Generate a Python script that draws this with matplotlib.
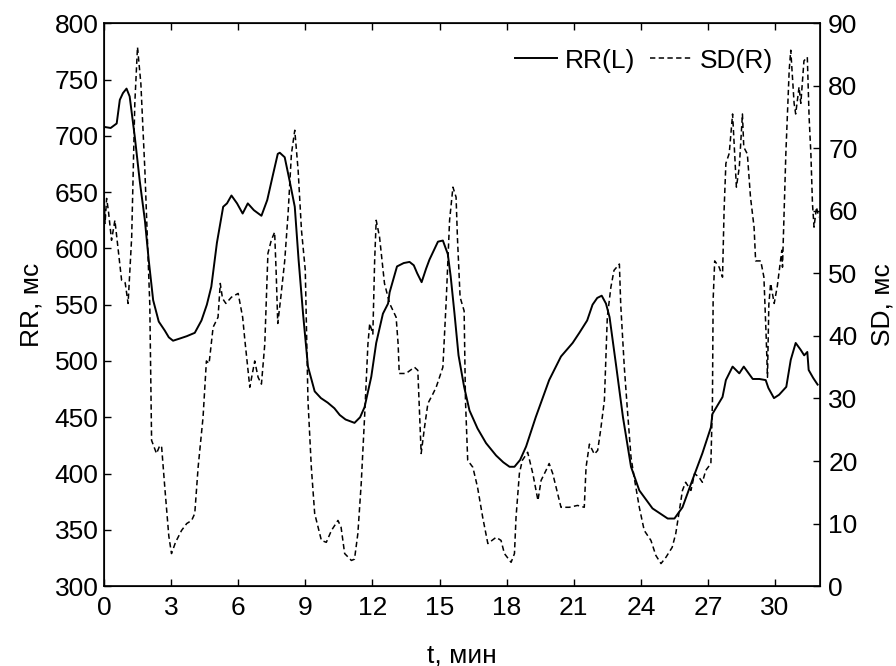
import numpy as np
import matplotlib
matplotlib.use('Agg')
import matplotlib.pyplot as plt

plt.rcParams['font.family'] = ['Liberation Sans', 'DejaVu Sans']
plt.rcParams['font.size'] = 19

# RR (левая ось), мс
rr_t = [0.0, 0.3, 0.57, 0.71, 0.85, 1.01, 1.15, 1.38, 1.6, 1.83, 2.0, 2.2, 2.45, 2.72,
        2.9, 3.09, 3.4, 3.7, 4.06, 4.36, 4.6, 4.8, 5.05, 5.33, 5.5, 5.7, 5.95, 6.2,
        6.43, 6.7, 7.04, 7.3, 7.55, 7.77, 7.86, 8.08, 8.3, 8.53, 8.7, 8.9, 9.12, 9.42,
        9.7, 10.0, 10.3, 10.54, 10.8, 11.2, 11.45, 11.65, 11.95, 12.17, 12.47, 12.7,
        12.77, 13.1, 13.4, 13.66, 13.85, 14.0, 14.2, 14.4, 14.55, 14.93, 15.15, 15.37,
        15.5, 15.67, 15.85, 16.1, 16.34, 16.7, 17.08, 17.53, 17.85, 18.13, 18.35, 18.6,
        18.87, 19.3, 19.9, 20.43, 20.95, 21.25, 21.6, 21.84, 22.05, 22.25, 22.44, 22.6,
        22.9, 23.2, 23.56, 23.93, 24.52, 25.2, 25.5, 25.86, 26.3, 26.75, 27.13, 27.2,
        27.65, 27.8, 28.1, 28.4, 28.6, 29.0, 29.3, 29.58, 29.7, 29.95, 30.18, 30.5,
        30.7, 30.92, 31.14, 31.3, 31.44, 31.5, 31.7, 31.9]
rr = [708, 707, 711, 732, 738, 742, 735, 699, 660, 625, 590, 554, 535, 527,
      521, 518, 520, 522, 525, 536, 550, 566, 605, 637, 640, 647, 640, 631,
      640, 634, 629, 643, 665, 684, 685, 681, 660, 637, 590, 542, 495, 473,
      467, 463, 458, 452, 448, 445, 450, 459, 486, 516, 542, 551,
      561, 584, 587, 588, 585, 578, 570, 582, 590, 606, 607, 595,
      575, 542, 505, 477, 456, 440, 427, 416, 410, 406, 406, 412,
      424, 450, 483, 504, 516, 525, 536, 550, 556, 558, 551, 539,
      495, 450, 406, 385, 369, 360, 360, 370, 394, 418, 441, 453,
      468, 483, 495, 489, 495, 484, 484, 483, 476, 467, 470, 477,
      501, 516, 510, 505, 508, 492, 485, 479]

# SD (правая ось), мс
sd_t = [0.0, 0.05, 0.12, 0.2, 0.34, 0.49, 0.64, 0.79, 0.95, 1.08, 1.24, 1.38, 1.5, 1.65,
        1.83, 1.98, 2.05, 2.13, 2.35, 2.5, 2.58, 2.72, 2.9, 3.02, 3.2, 3.47, 3.7, 3.92,
        4.06, 4.21, 4.43, 4.58, 4.7, 4.88, 5.1, 5.2, 5.3, 5.45, 5.7, 6.0, 6.2, 6.3,
        6.52, 6.74, 6.89, 7.04, 7.19, 7.33, 7.48, 7.63, 7.7, 7.77, 7.9, 8.08, 8.23,
        8.38, 8.53, 8.68, 8.83, 9.0, 9.12, 9.27, 9.42, 9.72, 9.94, 10.17, 10.46, 10.6,
        10.76, 11.06, 11.2, 11.35, 11.5, 11.65, 11.8, 11.88, 12.02, 12.1, 12.17, 12.32,
        12.54, 12.77, 13.06, 13.15, 13.2, 13.5, 13.88, 14.03, 14.18, 14.33, 14.48, 14.7,
        14.85, 15.0, 15.15, 15.3, 15.45, 15.6, 15.74, 15.8, 15.92, 16.1, 16.16, 16.26,
        16.49, 16.7, 16.93, 17.16, 17.53, 17.75, 17.9, 18.2, 18.35, 18.42, 18.57, 18.7,
        18.94, 19.17, 19.4, 19.54, 19.76, 19.9, 20.06, 20.28, 20.43, 20.8, 21.17, 21.47,
        21.55, 21.7, 21.92, 22.07, 22.2, 22.37, 22.5, 22.66, 22.8, 23.04, 23.1, 23.26,
        23.4, 23.56, 23.7, 23.93, 24.15, 24.45, 24.67, 24.9, 25.12, 25.4, 25.56, 25.7,
        25.86, 26.0, 26.24, 26.4, 26.6, 26.75, 26.9, 27.13, 27.2, 27.23, 27.3, 27.5,
        27.65, 27.72, 27.8, 27.95, 28.1, 28.17, 28.27, 28.4, 28.54, 28.6, 28.76, 28.9,
        29.06, 29.13, 29.36, 29.5, 29.6, 29.66, 29.72, 29.8, 29.96, 30.1, 30.3, 30.33,
        30.48, 30.63, 30.7, 30.85, 30.92, 31.07, 31.15, 31.29, 31.44, 31.52, 31.6, 31.67,
        31.74, 31.85, 31.95]
sd = [63, 58, 62, 60, 55.3, 58.5, 53.7, 48.9, 48.5, 45.2, 55.8, 77.2, 86.2, 80.4,
      66.5, 52, 45, 23.3, 21.2, 22.5, 22.2, 15.8, 8, 5.2, 7, 8.9, 10, 10.5,
      11.6, 19, 27, 36, 35.6, 41.4, 43, 48.4, 46, 45.2, 46.2, 46.8, 43, 39.3,
      31.8, 36, 33.4, 32.3, 38.7, 53.2, 55.3, 56.6, 50, 42, 46, 52, 59.5,
      69.1, 72.9, 66.5, 56.9, 50.5, 29.7, 19, 11.6, 7.3, 7.0, 8.9, 10.5, 9.4,
      5.2, 4.1, 4.3, 8.4, 16.4, 27, 38.7, 42, 40.3, 52, 58.5, 55.8,
      48.4, 45.2, 43, 38.7, 34, 34, 35, 34.5, 21.2, 25.4, 29.2, 30.7,
      31.8, 33.4, 35, 45.7, 58.5, 63.8, 62.2, 55.8, 46.2, 44, 29.7, 20.1,
      19, 15.8, 11, 6.8, 7.8, 7.3, 5.2, 3.8, 5.2, 11, 18, 20.1,
      21.4, 18, 13.7, 16.9, 18.5, 19.6, 18, 14.8, 12.6, 12.6, 12.9, 12.6,
      19, 22.7, 21.1, 21.7, 24.9, 29.7, 43, 47.8, 50.5, 51.5, 45, 35,
      28.1, 20.6, 17.4, 12.6, 8.9, 7.3, 4.9, 3.6, 4.6, 6.2, 8.4, 11.6,
      15.3, 16.6, 15.3, 18, 17.4, 16.6, 18.5, 19.6, 29.7, 45.7, 52, 51,
      49.4, 60.1, 67.6, 69.2, 75.5, 70.7, 63.8, 67, 75.5, 70.2, 69.1, 62.2,
      57.4, 52, 52, 49.4, 40, 33.4, 45, 48.4, 45.2, 48, 53.7, 51,
      69.1, 82.5, 85.7, 77.2, 75.5, 79.8, 77.2, 84, 84.6, 75, 69.1, 61.2,
      57.4, 60.6, 59]

fig = plt.figure(figsize=(8.96, 6.66), dpi=100)
ax = fig.add_axes([0.116, 0.12, 0.799, 0.845])
ax2 = ax.twinx()

l1, = ax.plot(rr_t, rr, color='black', lw=1.4, label='RR(L)')
l2, = ax2.plot(sd_t, sd, color='black', lw=1.1, ls=(0, (3.5, 2.2)), label='SD(R)')

ax.set_xlim(0, 32)
ax.set_ylim(300, 800)
ax2.set_ylim(0, 90)
ax.set_xticks(np.arange(0, 31, 3))
ax.set_yticks(np.arange(300, 801, 50))
ax2.set_yticks(np.arange(0, 91, 10))

ax.tick_params(direction='in', top=True, right=False, length=5, width=1)
ax.tick_params(axis='x', pad=7)
ax.tick_params(axis='y', pad=4)
ax2.tick_params(direction='in', length=5, width=1, pad=6)
for s in ax.spines.values():
    s.set_linewidth(1.2)

ax.set_xlabel('t, мин', labelpad=17)
ax.set_ylabel('RR, мс', labelpad=8)
ax2.set_ylabel('SD, мс', labelpad=9)

ax.legend(handles=[l1, l2], loc='upper right', ncol=2, frameon=False,
          handlelength=1.6, columnspacing=0.55, handletextpad=0.3,
          borderpad=0, borderaxespad=0, bbox_to_anchor=(0.935, 0.955))

fig.savefig('out.png', dpi=100)
